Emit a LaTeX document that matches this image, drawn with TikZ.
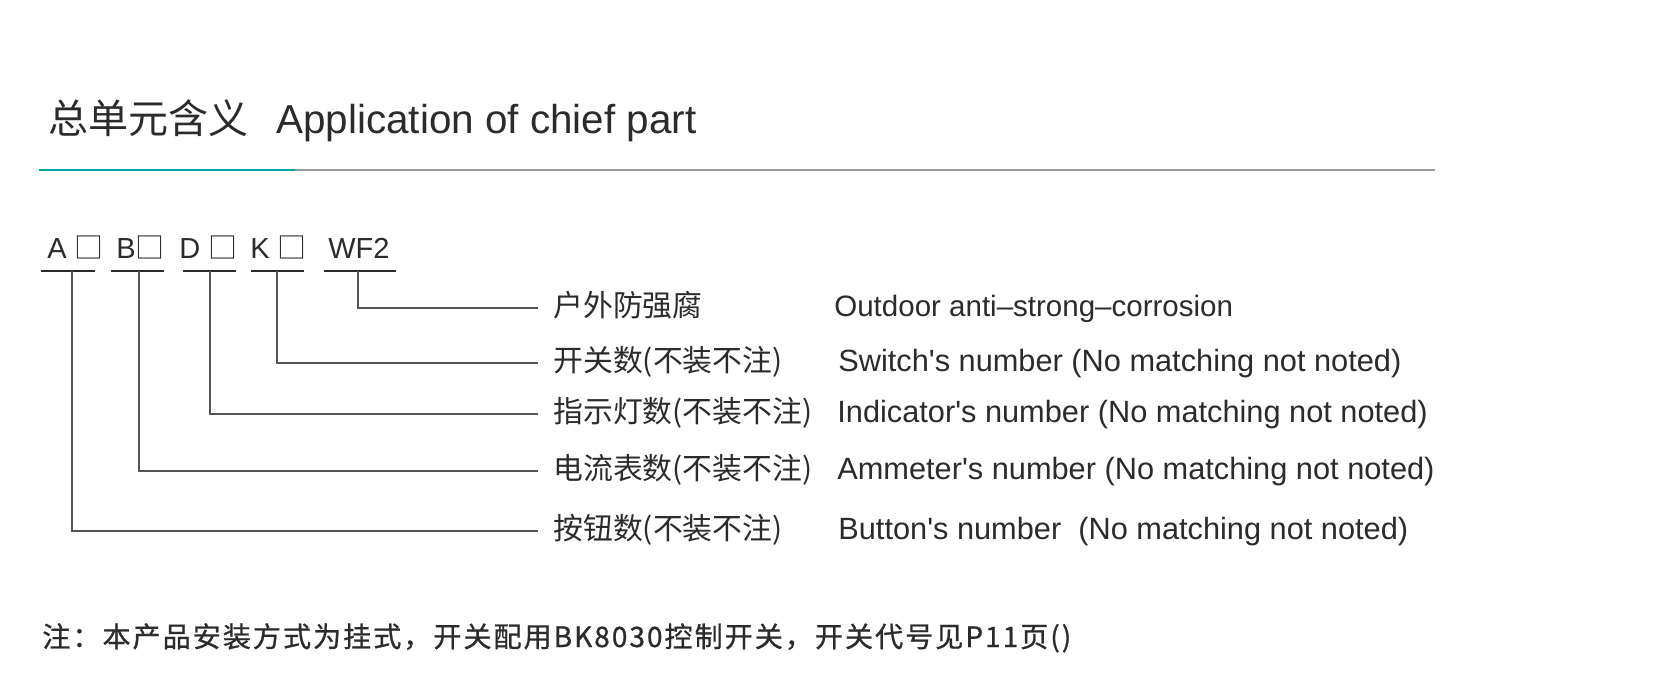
\documentclass[tikz,border=0pt]{standalone}
\usepackage{fontspec}
\setmainfont{Liberation Sans}
\newfontfamily\cjk{Noto Sans CJK SC}
\newfontfamily\cjknote{Noto Sans CJK SC}[FakeBold=0.8,LetterSpace=7]
\definecolor{ink}{HTML}{2B2B2B}
\definecolor{wire}{HTML}{555555}
\definecolor{rulecyan}{HTML}{00A3AD}
\definecolor{rulegrey}{HTML}{9A9A9A}

\begin{document}
\begin{tikzpicture}[x=0.02cm,y=-0.02cm,
  txt/.style={anchor=base west,inner sep=0pt,text=ink},
  code/.style={txt,font=\fontsize{16.5}{18}\selectfont},
  cnlab/.style={txt,inner xsep=0.3cm,font=\cjk\fontsize{17}{19}\selectfont},
  enlab/.style={txt,font=\fontsize{17.5}{19}\selectfont},
  wire/.style={draw=wire,line width=0.8pt},
  uline/.style={draw=ink,line width=0.8pt}]
\useasboundingbox (0,0) rectangle (1672,687);

\node[txt,font=\cjk\fontsize{22.8}{24}\selectfont] (titlecn) at (48,133) {总单元含义};
\node[txt,font=\fontsize{23}{24}\selectfont] (titleen) at (276,133) {Application of chief part};
\draw[rulegrey,line width=1.6pt] (39,170) -- (1435,170);
\draw[rulecyan,line width=1.6pt] (39,170) -- (295,170);

\foreach \n/\x/\t/\ua/\ub/\tx in {A/47/A \cjk□/41/95/72, B/116/B\cjk□/111/164/139,
    D/179/D \cjk□/183/236/210, K/250/K \cjk□/251/304/277, W/328/WF2/324/396/358} {
  \node[code] (c\n) at (\x,258) {\t};
  \draw[uline] (\ua,271) -- (\ub,271);
  \coordinate (t\n) at (\tx,271);
}

\foreach \n/\y/\cn/\en/\ex in {W/308/户外防强腐/{\fontsize{16.8}{19}\selectfont Outdoor anti–strong–corrosion}/834,
    K/363/开关数(不装不注)/Switch\textquotesingle s number (No matching not noted)/838,
    D/414/指示灯数(不装不注)/Indicator\textquotesingle s number (No matching not noted)/837,
    B/471/电流表数(不装不注)/Ammeter\textquotesingle s number (No matching not noted)/837,
    A/531/按钮数(不装不注)/Button\textquotesingle s number\ \ (No matching not noted)/838} {
  \node[cnlab] (l\n) at (538,\y+8) {\cn};
  \node[enlab] (e\n) at (\ex,\y+8) {\en};
  \draw[wire] (t\n) |- ([yshift=0.16cm]l\n.base west);
}

\node[txt,font=\cjknote\fontsize{16}{18}\selectfont] (note) at (42,647)
  {注：本产品安装方式为挂式，开关配用BK8030控制开关，开关代号见P11页()};
\end{tikzpicture}
\end{document}
